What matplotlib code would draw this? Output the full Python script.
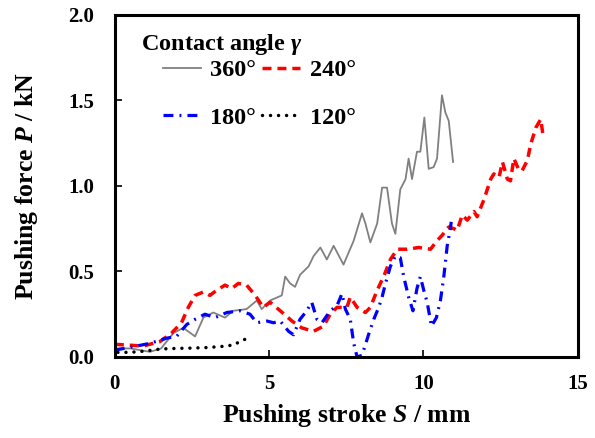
import numpy as np
import matplotlib
matplotlib.use("Agg")
import matplotlib.pyplot as plt
from matplotlib.lines import Line2D

plt.rcParams['font.family'] = ['Liberation Serif', 'DejaVu Serif']
plt.rcParams['font.weight'] = 'bold'
plt.rcParams['mathtext.fontset'] = 'custom'
plt.rcParams['mathtext.it'] = 'Liberation Serif:italic:bold'
plt.rcParams['mathtext.rm'] = 'Liberation Serif:bold'
plt.rcParams['mathtext.bf'] = 'Liberation Serif:bold'

# contact angle 360 deg
gray_x = [0, 0.5, 1.14, 1.5, 1.9, 2.22, 2.6, 2.87, 3.19, 3.57, 3.84, 4.27, 4.6, 4.76, 5.03,
          5.41, 5.52, 5.68, 5.84, 6.0, 6.28, 6.44, 6.66, 6.87, 7.09, 7.41, 7.74, 8.01, 8.12,
          8.28, 8.5, 8.66, 8.82, 8.98, 9.09, 9.25, 9.42, 9.52, 9.63, 9.79, 9.9, 10.03, 10.17,
          10.33, 10.44, 10.6, 10.71, 10.82, 10.96]
gray_y = [0.05, 0.05, 0.03, 0.05, 0.14, 0.17, 0.12, 0.23, 0.26, 0.23, 0.27, 0.28, 0.33, 0.28, 0.33,
          0.36, 0.47, 0.43, 0.41, 0.48, 0.53, 0.59, 0.64, 0.57, 0.65, 0.54, 0.68, 0.84, 0.78,
          0.67, 0.78, 0.99, 0.99, 0.78, 0.72, 0.98, 1.04, 1.16, 1.04, 1.20, 1.20, 1.40, 1.10,
          1.11, 1.16, 1.53, 1.43, 1.38, 1.14]

# contact angle 240 deg
red_x = [0, 0.92, 1.46, 1.84, 2.16, 2.38, 2.6, 2.87, 3.08, 3.3, 3.57, 3.79, 4.0, 4.27, 4.55,
         4.81, 5.03, 5.36, 5.74, 6.06, 6.44, 6.76, 6.98, 7.2, 7.52, 7.63, 7.85, 8.12, 8.28,
         8.5, 8.71, 8.93, 9.15, 9.47, 9.85, 10.23, 10.44, 10.6, 10.82, 10.99, 11.09, 11.26,
         11.42, 11.64, 11.74, 11.96, 12.18, 12.28, 12.45, 12.56, 12.72, 12.82, 12.93, 13.1,
         13.2, 13.37, 13.47, 13.64, 13.8, 13.88]
red_y = [0.074, 0.064, 0.09, 0.14, 0.2, 0.29, 0.36, 0.38, 0.36, 0.39, 0.42, 0.40, 0.43, 0.42, 0.36,
         0.29, 0.32, 0.27, 0.21, 0.17, 0.15, 0.18, 0.25, 0.29, 0.29, 0.35, 0.29, 0.26, 0.29,
         0.39, 0.47, 0.57, 0.63, 0.63, 0.64, 0.63, 0.68, 0.71, 0.76, 0.75, 0.74, 0.83,
         0.80, 0.85, 0.82, 0.92, 1.04, 1.07, 1.05, 1.14, 1.04, 1.03, 1.16, 1.09,
         1.09, 1.15, 1.24, 1.34, 1.39, 1.29]

# contact angle 180 deg
blue_x = [0, 0.6, 1.14, 1.68, 2.0, 2.33, 2.6, 2.92, 3.25, 3.63, 4.06, 4.38, 4.6, 4.93, 5.14,
          5.36, 5.63, 5.79, 6.0, 6.22, 6.38, 6.55, 6.71, 6.98, 7.2, 7.36, 7.47, 7.63, 7.74,
          7.85, 8.01, 8.22, 8.39, 8.55, 8.66, 8.77, 8.93, 9.09, 9.25, 9.36, 9.52, 9.66, 9.79,
          9.9, 10.01, 10.12, 10.26, 10.42, 10.55, 10.66, 10.77, 10.88, 10.9]
blue_y = [0.04, 0.06, 0.08, 0.11, 0.12, 0.19, 0.22, 0.25, 0.23, 0.26, 0.27, 0.25, 0.2, 0.21, 0.2,
          0.21, 0.15, 0.13, 0.22, 0.27, 0.32, 0.22, 0.2, 0.27, 0.3, 0.37, 0.28, 0.22, 0.08,
          0.0, 0.01, 0.13, 0.22, 0.29, 0.35, 0.43, 0.53, 0.59, 0.58, 0.47, 0.35, 0.27, 0.40,
          0.47, 0.39, 0.32, 0.18, 0.23, 0.33, 0.47, 0.65, 0.76, 0.79]

# contact angle 120 deg
black_x = [0.1, 0.5, 1.0, 1.5, 2.0, 2.5, 3.0, 3.5, 3.84, 4.11, 4.35]
black_y = [0.027, 0.027, 0.035, 0.047, 0.05, 0.052, 0.055, 0.062, 0.07, 0.095, 0.113]

styles = {
    '360°': dict(color='#808080', lw=1.3, ls='-'),
    '240°': dict(color='#ff0000', lw=2.5, ls=(0, (2.6, 1.7))),
    '180°': dict(color='#0000ff', lw=2.3, ls=(0, (3.1, 1.9, 0.6, 1.9))),
    '120°': dict(color='black', lw=2.5, ls=(0, (0.01, 2.3)), dash_capstyle='round'),
}

fig = plt.figure(figsize=(5.95, 4.38), dpi=100)
ax = fig.add_axes([0.193, 0.185, 0.778, 0.781])

ax.plot(gray_x, gray_y, **styles['360°'])
ax.plot(red_x, red_y, **styles['240°'])
ax.plot(blue_x, blue_y, **styles['180°'])
ax.plot(black_x, black_y, **styles['120°'])

ax.set_xlim(0, 15)
ax.set_ylim(0, 2.0)
ax.set_xticks([0, 5, 10, 15])
ax.set_yticks(np.arange(0, 2.01, 0.5))
ax.yaxis.set_major_formatter(matplotlib.ticker.FormatStrFormatter('%.1f'))
ax.tick_params(direction='in', length=5, width=1.2, labelsize=15)
ax.tick_params(axis='x', pad=12)
ax.tick_params(axis='y', pad=15)
for s in ax.spines.values():
    s.set_linewidth(2.2)

ax.set_xlabel(r'Pushing stroke $S$ / mm', fontsize=18.5, fontweight='bold', labelpad=6)
ax.set_ylabel(r'Pushing force $P$ / kN', fontsize=18.5, fontweight='bold', labelpad=20)

# legend
ax.text(0.056, 0.913, r'Contact angle $\gamma$', transform=ax.transAxes,
        fontsize=17.5, fontweight='bold', va='center', ha='left')
order = ['360°', '180°', '240°', '120°']
handles = [Line2D([], [], **styles[k]) for k in order]
ax.legend(handles, order, ncol=2, loc='upper left', bbox_to_anchor=(0.104, 0.87),
          frameon=False, fontsize=17.5, handlelength=1.55, handletextpad=0.4,
          columnspacing=0.25, labelspacing=1.05, borderaxespad=0, borderpad=0)

fig.savefig('out.png', dpi=100)
